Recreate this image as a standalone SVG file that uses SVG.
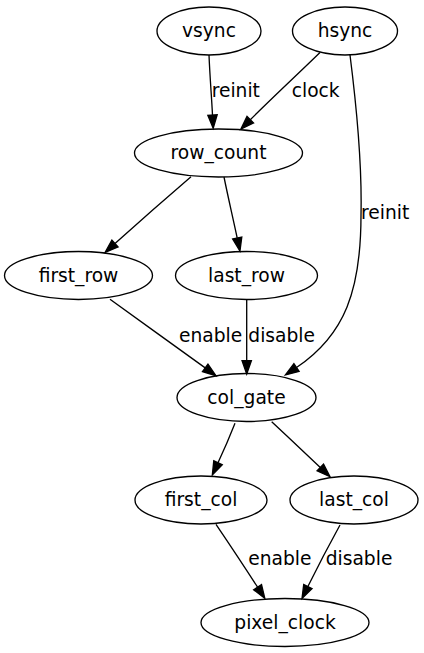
<svg xmlns="http://www.w3.org/2000/svg" width="424" height="653" viewBox="0 0 424 653">
<style>
.node ellipse{fill:none;stroke:#000;stroke-width:1.33}
.node text{font-family:"DejaVu Sans","Liberation Sans",sans-serif;font-size:18.67px;text-anchor:middle;fill:#000}
.edge path{fill:none;stroke:#000;stroke-width:1.33}
.lbl{font-family:"DejaVu Sans","Liberation Sans",sans-serif;font-size:18.67px;fill:#000}
</style>
<defs>
<marker id="arr" markerUnits="userSpaceOnUse" markerWidth="15" markerHeight="11" refX="0" refY="4.67" orient="auto" overflow="visible">
<path d="M0,0 L13.33,4.67 L0,9.33 z" fill="#000" stroke="#000" stroke-width="1.33"/>
</marker>
</defs>
<rect width="424" height="653" fill="#fff"/>
<g id="connectors" class="edge">
<path d="M209,55 C209.8,75 211.5,96 212.5,115" marker-end="url(#arr)"/>
<path d="M320,52.5 C300,72 270,100 250.3,119.7" marker-end="url(#arr)"/>
<path d="M350,55 C357,110 362,170 361,215 C361,290 345,335 296.5,367.5" marker-end="url(#arr)"/>
<path d="M191,176.7 C165,199 140,221 115,243.5" marker-end="url(#arr)"/>
<path d="M224,177 C228,197 233,218 237.2,238" marker-end="url(#arr)"/>
<path d="M110,299.3 C140,321 175,346 205.2,367.9" marker-end="url(#arr)"/>
<path d="M246.7,299.5 L246.7,360.7" marker-end="url(#arr)"/>
<path d="M235,423.3 C230,436 224,450 218,462.8" marker-end="url(#arr)"/>
<path d="M271.7,421.7 C288,437 305,453 320.3,467.5" marker-end="url(#arr)"/>
<path d="M216,524.3 C230,545 244,566 257.6,587.2" marker-end="url(#arr)"/>
<path d="M340,525 C329,545 318,566 307.9,586.5" marker-end="url(#arr)"/>
<text class="lbl" x="211.7" y="96.7">reinit</text>
<text class="lbl" x="291.7" y="96.7">clock</text>
<text class="lbl" x="361" y="219">reinit</text>
<text class="lbl" x="179" y="341.7">enable</text>
<text class="lbl" x="248.3" y="341.7">disable</text>
<text class="lbl" x="248.3" y="565">enable</text>
<text class="lbl" x="325.7" y="565">disable</text>
</g>
<g id="vsync" class="node"><ellipse cx="209" cy="31" rx="52" ry="24"/><text x="209" y="37">vsync</text></g>
<g id="hsync" class="node"><ellipse cx="345" cy="31" rx="52.5" ry="24"/><text x="345" y="37">hsync</text></g>
<g id="row_count" class="node"><ellipse cx="218.5" cy="153" rx="84" ry="24"/><text x="218.5" y="159">row_count</text></g>
<g id="first_row" class="node"><ellipse cx="78.5" cy="275.5" rx="74" ry="24"/><text x="78.5" y="281.5">first_row</text></g>
<g id="last_row" class="node"><ellipse cx="246.5" cy="275.5" rx="71" ry="24"/><text x="246.5" y="281.5">last_row</text></g>
<g id="col_gate" class="node"><ellipse cx="246.5" cy="397.5" rx="69.5" ry="24"/><text x="246.5" y="403.5">col_gate</text></g>
<g id="first_col" class="node"><ellipse cx="201" cy="500" rx="66" ry="24"/><text x="201" y="506">first_col</text></g>
<g id="last_col" class="node"><ellipse cx="354" cy="500" rx="64" ry="24"/><text x="354" y="506">last_col</text></g>
<g id="pixel_clock" class="node"><ellipse cx="285" cy="622.5" rx="84" ry="24"/><text x="285" y="628.5">pixel_clock</text></g>
</svg>
